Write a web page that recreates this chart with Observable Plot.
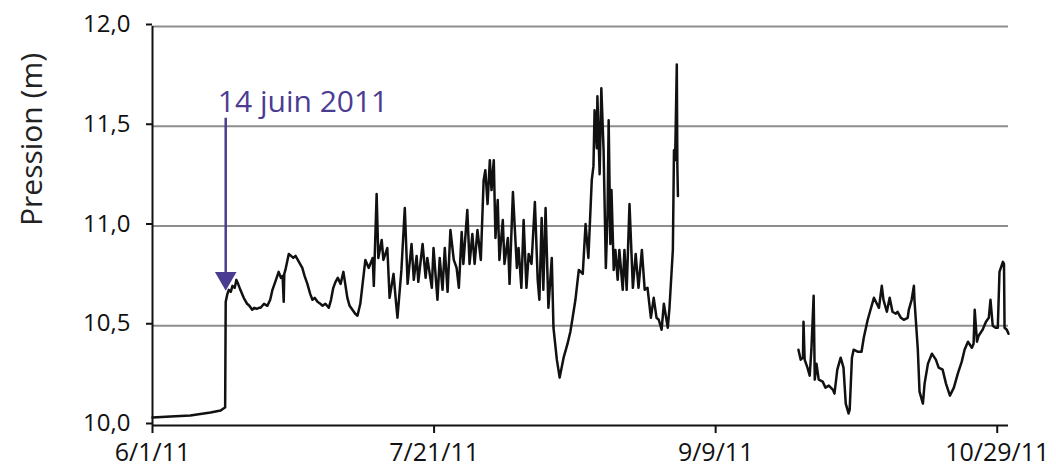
<!DOCTYPE html>
<html>
<head>
<meta charset="utf-8">
<script src="https://cdn.jsdelivr.net/npm/d3@7"></script>
<script src="https://cdn.jsdelivr.net/npm/@observablehq/plot@0.6"></script>
<style>
  html, body { margin: 0; padding: 0; background: #fff; }
  #chart svg { display: block; }
</style>
</head>
<body>
<div id="chart"></div>
<script>
// Days since 1 June 2011 and pressure (m) — first logging period
const days1 = [0, 3.2, 6.7, 10.3, 12.1, 12.6, 12.9,
  13.0, 13.3, 13.55, 13.9, 14.2, 14.6, 14.9, 15.2, 15.6, 16.2, 16.8, 17.2, 17.7, 18.1, 18.5, 18.9, 19.2, 19.8, 20.4, 20.9, 21.3, 21.8, 22.4, 22.8, 23.1, 23.3, 23.4, 23.6,
  24.2, 24.6, 25.0, 25.4, 25.8, 26.2, 26.6, 27.0, 27.5, 28.0, 28.4, 28.8, 29.3, 29.8, 30.2, 30.7, 31.3, 31.7, 32.1, 32.5, 32.9, 33.4, 33.9, 34.6, 35.0, 35.5, 36.0, 36.4,
  36.9, 37.8, 38.4, 39.1, 39.3, 39.8, 40.1, 40.7, 41.0, 41.7, 42.1, 42.8, 43.2, 43.5, 44.2, 44.8,
  45.3, 46.0, 46.4, 46.9, 47.2, 47.96, 48.5, 48.8, 49.6, 49.9, 50.6, 51.0, 51.5, 51.9, 52.4, 52.9,
  53.5, 54.0, 54.4, 54.9, 55.2, 55.9, 56.3, 56.8, 57.2, 57.7, 58.3, 58.8, 59.1, 59.5, 59.9, 60.2,
  60.6, 60.9, 61.3, 61.6, 62.2, 62.5, 63.1, 63.4, 64.0, 64.7, 65.0, 65.5, 65.9, 66.4, 66.8, 67.3,
  67.9, 68.4, 68.7, 69.1, 69.4, 69.8, 70.3, 70.9, 71.2, 71.8, 72.3, 73.0, 73.7, 74.2, 74.6, 75.1, 75.7,
  76.4, 76.9, 77.4, 78.0, 78.3, 78.5, 78.9, 79.0, 79.4, 79.7, 80.1, 80.5, 80.8, 81.0, 81.3, 81.5,
  81.9, 82.2, 82.6, 82.9, 83.5, 83.8, 84.2, 84.7, 85.3, 85.8, 86.3, 86.9, 87.4, 87.9, 88.5, 89.0,
  89.5, 89.9, 90.4, 90.8, 91.5, 91.8, 92.4, 92.6, 92.8, 93.1, 93.2, 93.3];
const vals1 = [10.04, 10.045, 10.05, 10.065, 10.075, 10.085, 10.09,
  10.62, 10.66, 10.68, 10.67, 10.70, 10.69, 10.73, 10.71, 10.68, 10.64, 10.61, 10.60, 10.58, 10.59, 10.585, 10.59, 10.59, 10.61, 10.60, 10.63, 10.68, 10.72, 10.77, 10.74, 10.75, 10.62, 10.76, 10.78,
  10.86, 10.85, 10.84, 10.85, 10.83, 10.81, 10.79, 10.75, 10.71, 10.66, 10.63, 10.64, 10.62, 10.61, 10.60, 10.61, 10.59, 10.63, 10.69, 10.72, 10.74, 10.71, 10.77, 10.64, 10.60, 10.58, 10.56, 10.55,
  10.61, 10.83, 10.79, 10.84, 10.70, 11.16, 10.84, 10.93, 10.83, 10.89, 10.64, 10.76, 10.63, 10.54, 10.78, 11.09,
  10.71, 10.91, 10.73, 10.85, 10.72, 10.91, 10.74, 10.84, 10.69, 10.89, 10.63, 10.84, 10.68, 10.89, 10.67, 10.98,
  10.83, 10.79, 10.69, 10.97, 10.81, 11.08, 10.81, 10.96, 10.81, 10.98, 10.83, 11.23, 11.28, 11.11, 11.33, 11.18,
  11.33, 10.94, 11.13, 10.83, 11.03, 10.81, 10.94, 10.71, 11.17, 10.79, 10.89, 10.69, 11.03, 10.69, 10.86, 10.81,
  11.12, 10.73, 10.63, 11.04, 10.68, 11.09, 10.59, 10.84, 10.49, 10.33, 10.24, 10.34, 10.41, 10.47, 10.54, 10.63, 10.78,
  10.76, 11.01, 10.84, 11.23, 11.30, 11.58, 11.39, 11.65, 11.26, 11.69, 11.38, 10.79, 11.05, 11.53, 10.91, 11.18,
  10.78, 10.88, 10.73, 10.88, 10.68, 10.88, 10.68, 11.11, 10.69, 10.86, 10.69, 10.88, 10.68, 10.69, 10.54, 10.64,
  10.54, 10.53, 10.48, 10.61, 10.49, 10.59, 10.88, 11.38, 11.33, 11.81, 11.30, 11.15];

// Second logging period
const days2 = [114.7, 115.1, 115.5, 115.6, 115.8, 116.3, 116.7, 117.0, 117.4, 117.6, 117.9, 118.3,
  119.0, 119.5, 120.1, 120.8, 121.1, 121.6, 122.2, 122.7, 123.1, 123.6, 123.8, 124.2, 124.5, 125.2,
  125.9, 126.3, 127.0, 127.4, 128.1, 128.8, 129.0, 129.5, 129.8, 130.4, 130.9, 131.4, 132.0, 132.3,
  132.9, 133.4, 134.1, 134.3, 134.8, 135.2, 135.3, 135.9, 136.2, 136.8, 137.1, 137.7, 138.4, 139.1,
  139.6, 140.3, 140.9, 141.6, 142.3, 143.0, 143.7, 144.2, 144.8, 145.5, 145.8, 146.0, 146.4, 146.7,
  147.4, 148.0, 148.5, 148.8, 149.2, 149.7, 150.1, 150.4, 151.0, 151.2, 151.3, 151.7, 152.0];
const vals2 = [10.38, 10.33, 10.34, 10.52, 10.33, 10.29, 10.25, 10.38, 10.65, 10.23, 10.31, 10.23,
  10.22, 10.19, 10.20, 10.18, 10.16, 10.28, 10.34, 10.29, 10.11, 10.06, 10.08, 10.34, 10.38, 10.37,
  10.37, 10.44, 10.53, 10.57, 10.64, 10.60, 10.59, 10.70, 10.63, 10.57, 10.64, 10.57, 10.56, 10.57,
  10.54, 10.53, 10.54, 10.58, 10.63, 10.70, 10.63, 10.38, 10.17, 10.11, 10.21, 10.31, 10.36, 10.33,
  10.29, 10.28, 10.21, 10.15, 10.19, 10.26, 10.32, 10.38, 10.42, 10.39, 10.41, 10.58, 10.42, 10.45,
  10.48, 10.52, 10.54, 10.63, 10.50, 10.49, 10.49, 10.77, 10.82, 10.81, 10.49, 10.48, 10.46];

const yTicks = [10, 10.5, 11, 11.5, 12];
const xTickDays = [0, 50, 100, 150];
const annotationText = "14 juin 2011";
const annotationDay = 13;

const start = Date.UTC(2011, 5, 1);
const toDate = d => new Date(start + d * 86400000);
const rows = [
  ...days1.map((d, i) => ({date: toDate(d), value: vals1[i], seg: 1})),
  ...days2.map((d, i) => ({date: toDate(d), value: vals2[i], seg: 2}))
];
const purple = "#4b3c92";
const font = "'Open Sans', 'Noto Sans', sans-serif";

const chart = Plot.plot({
  width: 1056,
  height: 476,
  marginLeft: 152,
  marginRight: 48,
  marginTop: 26,
  marginBottom: 51,
  style: {fontFamily: font, background: "#fff", color: "#111"},
  x: {type: "utc", domain: [toDate(0), toDate(152)]},
  y: {domain: [10, 12]},
  marks: [
    Plot.ruleY(yTicks.filter(v => v > 10), {stroke: "#8d8d8d", strokeWidth: 2}),
    Plot.axisY({
      ticks: yTicks, tickSize: 6, tickPadding: 16, fontSize: 24, dy: -2,
      tickFormat: v => v.toFixed(1).replace(".", ","),
      label: null, stroke: "#111", strokeWidth: 2
    }),
    Plot.text(["Pression (m)"], {frameAnchor: "left", text: d => d, dx: -120, rotate: -90, fontSize: 30, fill: "#222"}),
    Plot.axisX({
      ticks: xTickDays.map(toDate), tickSize: 8, tickPadding: 10, fontSize: 25,
      tickFormat: d => `${d.getUTCMonth() + 1}/${d.getUTCDate()}/11`,
      label: null, stroke: "#111", strokeWidth: 2
    }),
    Plot.ruleY([10], {stroke: "#111", strokeWidth: 2}),
    Plot.ruleX([toDate(0)], {stroke: "#111", strokeWidth: 2}),
    Plot.line(rows, {x: "date", y: "value", z: "seg", stroke: "#111", strokeWidth: 2.5, curve: "linear"}),
    Plot.ruleX([toDate(annotationDay)], {y1: 11.54, y2: 10.76, stroke: purple, strokeWidth: 2.5}),
    Plot.dot([toDate(annotationDay)], {x: d => d, y: 10.738, symbol: "triangle", rotate: 180, r: 8, fill: purple, stroke: "none"}),
    Plot.text([annotationText], {x: toDate(11.6), y: 11.62, text: d => d, textAnchor: "start", fill: purple, fontSize: 30})
  ]
});
document.getElementById("chart").appendChild(chart);
</script>
</body>
</html>
